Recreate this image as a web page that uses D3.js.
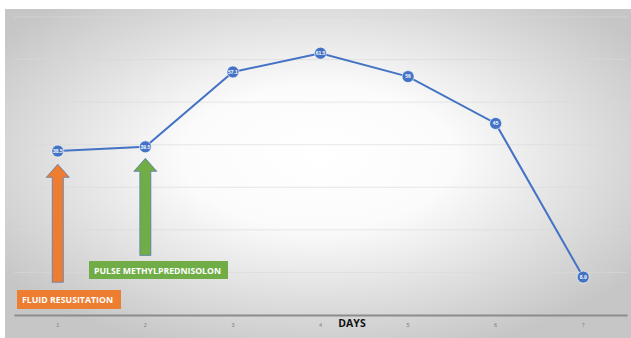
<!DOCTYPE html>
<html>
<head>
<meta charset="utf-8">
<script src="https://cdn.jsdelivr.net/npm/d3@7"></script>
<style>
  body { margin: 0; background: #fff; }
  svg { display: block; }
</style>
</head>
<body>
<svg id="chart" width="631" height="338"></svg>
<script>
// Data
const days = ["1", "2", "3", "4", "5", "6", "7"];
const values = [38.5, 39.5, 57.1, 61.5, 56, 45, 8.9];
const valueLabels = ["38.5", "39.5", "57.1", "61.5", "56", "45", "8.9"];
const gridTicks = [10, 20, 30, 40, 50, 60, 70];

// Annotations (day, tip value, base value)
const arrowDays = ["1", "2"];
const arrowTips = [35.4, 36.8];
const arrowBases = [7.7, 14];
const arrowColors = ["#ED7D31", "#70AD47"];
const annotationTexts = ["FLUID RESUSITATION", "PULSE METHYLPREDNISOLON"];

const width = 631, height = 338;
const svg = d3.select("#chart");

// Background gradient
const defs = svg.append("defs");
const grad = defs.append("radialGradient")
    .attr("id", "bg")
    .attr("cx", "50%").attr("cy", "45%").attr("r", "62%");
grad.append("stop").attr("offset", "0%").attr("stop-color", "#ffffff");
grad.append("stop").attr("offset", "35%").attr("stop-color", "#fbfbfb");
grad.append("stop").attr("offset", "100%").attr("stop-color", "#c6c6c6");

svg.append("rect")
    .attr("x", 5).attr("y", 9)
    .attr("width", width - 5).attr("height", height - 9)
    .attr("fill", "url(#bg)");

// Scales
const x = d3.scaleBand().domain(days).range([14, 627]);
const y = d3.scaleLinear().domain([0, 70]).range([315, 17]);
const cx = d => x(d) + x.bandwidth() / 2;

// Gridlines
svg.append("g")
    .selectAll("line")
    .data(gridTicks)
    .join("line")
    .attr("x1", 14).attr("x2", 627)
    .attr("y1", d => y(d)).attr("y2", d => y(d))
    .attr("stroke", "#d9d9d9")
    .attr("stroke-opacity", 0.6)
    .attr("stroke-width", 1);

// X axis
const xAxis = d3.axisBottom(x).tickSize(0).tickPadding(8);
const gx = svg.append("g")
    .attr("transform", `translate(0, ${y(0)})`)
    .call(xAxis);
gx.select(".domain").attr("stroke", "#8c8c8c").attr("stroke-width", 2);
gx.selectAll("text")
    .attr("fill", "#7f7f7f")
    .style("font-family", "Liberation Sans, sans-serif")
    .style("font-size", "5.5px");

svg.append("text")
    .attr("x", 352).attr("y", 327)
    .attr("text-anchor", "middle")
    .style("font-family", "Open Sans, sans-serif")
    .style("font-weight", "bold")
    .style("font-size", "10.5px")
    .attr("fill", "#111")
    .text("DAYS");

// Arrows
const arrows = svg.append("g");
arrowDays.forEach((d, i) => {
    const xc = cx(d);
    const tip = y(arrowTips[i]);
    const base = y(arrowBases[i]);
    const headH = 13, headW = 11.5, shaftW = 5.5;
    const path = [
        [xc, tip],
        [xc + headW, tip + headH],
        [xc + shaftW, tip + headH],
        [xc + shaftW, base],
        [xc - shaftW, base],
        [xc - shaftW, tip + headH],
        [xc - headW, tip + headH]
    ];
    arrows.append("path")
        .attr("d", d3.line()(path) + "Z")
        .attr("fill", arrowColors[i])
        .attr("stroke", "#5b7bb5")
        .attr("stroke-width", 0.8);
});

// Annotation labels
const boxes = [
    { x: 17, y: 290, w: 104, h: 19, tx: 22, ty: 303, tl: 91 },
    { x: 89, y: 261, w: 139, h: 18, tx: 94, ty: 273.5, tl: 127 }
];
boxes.forEach((b, i) => {
    svg.append("rect")
        .attr("x", b.x).attr("y", b.y)
        .attr("width", b.w).attr("height", b.h)
        .attr("fill", arrowColors[i]);
    svg.append("text")
        .attr("x", b.tx).attr("y", b.ty)
        .attr("textLength", b.tl)
        .attr("lengthAdjust", "spacingAndGlyphs")
        .style("font-family", "Open Sans, sans-serif")
        .style("font-weight", "bold")
        .style("font-size", "9.5px")
        .attr("fill", "#fff")
        .text(annotationTexts[i]);
});

// Line
svg.append("path")
    .datum(values)
    .attr("fill", "none")
    .attr("stroke", "#4472C4")
    .attr("stroke-width", 2)
    .attr("d", d3.line().x((d, i) => cx(days[i])).y(d => y(d)));

// Markers
const marks = svg.append("g")
    .selectAll("g")
    .data(values)
    .join("g")
    .attr("transform", (d, i) => `translate(${cx(days[i])}, ${y(d)})`);

marks.append("circle")
    .attr("r", 6)
    .attr("fill", "#4472C4")
    .attr("stroke", "#ffffff")
    .attr("stroke-width", 0.6);

marks.append("text")
    .attr("text-anchor", "middle")
    .attr("dy", "0.35em")
    .style("font-family", "Liberation Sans, sans-serif")
    .style("font-weight", "bold")
    .style("font-size", "5px")
    .attr("fill", "#fff")
    .text((d, i) => valueLabels[i]);
</script>
</body>
</html>
